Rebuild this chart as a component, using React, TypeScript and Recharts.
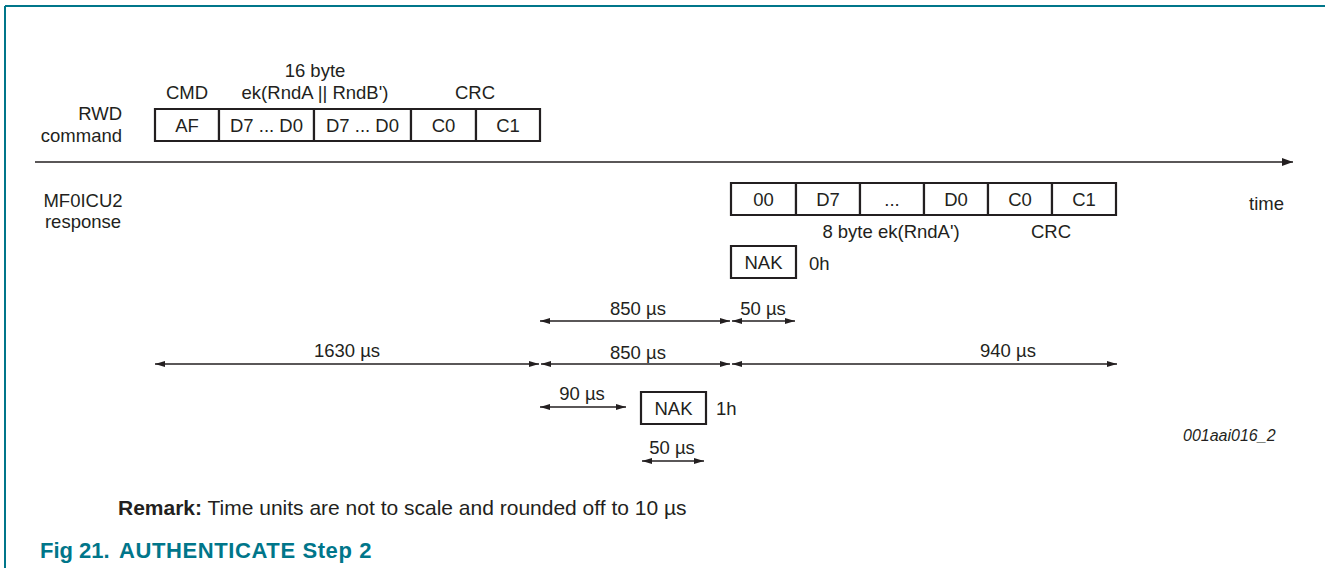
import { ComposedChart, XAxis, YAxis, ReferenceArea, ReferenceLine, Scatter } from 'recharts';

const W = 1325;
const H = 568;
const INK = '#231f20';
const TEAL = '#00768a';
const FONT = '"Liberation Sans", Arial, sans-serif';
const LABEL_SIZE = 18.5;

// RWD command frame: byte fields and their boundaries on the diagram axis
const cmdBytes = ['AF', 'D7 ... D0', 'D7 ... D0', 'C0', 'C1'];
const cmdEdges = [155, 219, 314, 411, 476, 540];
const cmdRow = [109, 141];

// MF0ICU2 response frame
const respBytes = ['00', 'D7', '...', 'D0', 'C0', 'C1'];
const respEdges = [731, 796, 860, 924, 988, 1052, 1116];
const respRow = [183, 215];

// NAK answers
const naks = [
  { text: 'NAK', from: 731, to: 796, top: 246, bottom: 278 },
  { text: 'NAK', from: 641, to: 706, top: 392, bottom: 424 },
];

// timing spans (label, start, end, row)
const timings = [
  { label: '850 µs', from: 540, to: 730, row: 321 },
  { label: '50 µs', from: 732, to: 795, row: 321 },
  { label: '1630 µs', from: 155, to: 539, row: 364 },
  { label: '850 µs', from: 541, to: 730, row: 364 },
  { label: '940 µs', from: 732, to: 1117, row: 364 },
  { label: '90 µs', from: 540, to: 626, row: 407 },
  { label: '50 µs', from: 642, to: 704, row: 461 },
];
const timingLabelX = [638, 763, 347, 638, 1008, 582, 672];
const timingLabelY = [308, 308, 350, 352, 350, 393, 447];

// free text
const labels = [
  { x: 315, y: 70, text: '16 byte', anchor: 'middle' },
  { x: 187, y: 92, text: 'CMD', anchor: 'middle' },
  { x: 315, y: 92, text: "ek(RndA || RndB')", anchor: 'middle' },
  { x: 475, y: 92, text: 'CRC', anchor: 'middle' },
  { x: 122, y: 113, text: 'RWD', anchor: 'end' },
  { x: 122, y: 135, text: 'command', anchor: 'end' },
  { x: 83, y: 200, text: 'MF0ICU2', anchor: 'middle' },
  { x: 83, y: 221, text: 'response', anchor: 'middle' },
  { x: 891, y: 231, text: "8 byte ek(RndA')", anchor: 'middle' },
  { x: 1051, y: 231, text: 'CRC', anchor: 'middle' },
  { x: 1249, y: 203, text: 'time', anchor: 'start' },
  { x: 809, y: 263, text: '0h', anchor: 'start' },
  { x: 716, y: 408, text: '1h', anchor: 'start' },
];

const timeAxis = { from: 35, to: 1293, row: 162 };

const TextMark = (p: any) => {
  const d = p.payload;
  return (
    <text
      x={p.cx}
      y={p.cy}
      textAnchor={d.anchor || 'middle'}
      dominantBaseline="central"
      fontFamily={FONT}
      fontSize={d.size || LABEL_SIZE}
      fontStyle={d.italic ? 'italic' : 'normal'}
      fontWeight={d.bold ? 'bold' : 'normal'}
      letterSpacing={d.spacing || 0}
      fill={d.color || INK}
    >
      {d.lead && <tspan fontWeight="bold">{d.lead}</tspan>}
      {d.text}
    </text>
  );
};

const arrow = (both: boolean, len = 10, half = 3, width = 1.3) => (p: any) => {
  const { x1, y1, x2, y2 } = p;
  const dir = x2 >= x1 ? 1 : -1;
  const head = (tip: number, d: number) =>
    `${tip},${y1} ${tip - d * len},${y1 - half} ${tip - d * len},${y1 + half}`;
  return (
    <g>
      <line x1={x1} y1={y1} x2={x2} y2={y2} stroke={INK} strokeWidth={width} />
      {both && <polygon points={head(x1, -dir)} fill={INK} />}
      <polygon points={head(x2, dir)} fill={INK} />
    </g>
  );
};

const notes = [
  { x: 118, y: 507, lead: 'Remark:', text: ' Time units are not to scale and rounded off to 10 µs', anchor: 'start', size: 21 },
  { x: 1183, y: 435, text: '001aai016_2', anchor: 'start', italic: true, size: 16 },
  { x: 40, y: 550, text: 'Fig 21.', anchor: 'start', bold: true, size: 22, color: TEAL },
  { x: 119, y: 550, text: 'AUTHENTICATE Step 2', anchor: 'start', bold: true, size: 22, spacing: 0.6, color: TEAL },
];

const boxStyle = { stroke: INK, strokeWidth: 2.2, fill: '#fff', fillOpacity: 1 };
const boxLabel = (value: string) => ({ value, position: 'center' as const, fill: INK, fontSize: LABEL_SIZE, fontFamily: FONT });

export default function App() {
  return (
    <div style={{ position: 'absolute', left: 0, top: 0, width: W, height: H, background: '#fff' }}>
      <ComposedChart width={W} height={H} margin={{ top: 0, right: 0, bottom: 0, left: 0 }}>
        <XAxis dataKey="x" type="number" domain={[0, W]} hide allowDataOverflow />
        <YAxis dataKey="y" type="number" domain={[0, H]} reversed hide allowDataOverflow />

        {/* page frame */}
        <ReferenceLine segment={[{ x: 5, y: 6 }, { x: W, y: 6 }]} stroke={TEAL} strokeWidth={2} ifOverflow="visible" />
        <ReferenceLine segment={[{ x: 5, y: 6 }, { x: 5, y: H }]} stroke={TEAL} strokeWidth={2} ifOverflow="visible" />

        {/* time axis */}
        <ReferenceLine
          segment={[{ x: timeAxis.from, y: timeAxis.row }, { x: timeAxis.to, y: timeAxis.row }]}
          shape={arrow(false, 11, 4, 1.4)}
        />

        {cmdBytes.map((b, i) => (
          <ReferenceArea key={`c${i}`} x1={cmdEdges[i]} x2={cmdEdges[i + 1]} y1={cmdRow[0]} y2={cmdRow[1]} {...boxStyle} label={boxLabel(b)} />
        ))}
        {respBytes.map((b, i) => (
          <ReferenceArea key={`r${i}`} x1={respEdges[i]} x2={respEdges[i + 1]} y1={respRow[0]} y2={respRow[1]} {...boxStyle} label={boxLabel(b)} />
        ))}
        {naks.map((n, i) => (
          <ReferenceArea key={`n${i}`} x1={n.from} x2={n.to} y1={n.top} y2={n.bottom} {...boxStyle} label={boxLabel(n.text)} />
        ))}

        {timings.map((t, i) => (
          <ReferenceLine key={`t${i}`} segment={[{ x: t.from, y: t.row }, { x: t.to, y: t.row }]} shape={arrow(true)} />
        ))}

        <Scatter
          data={[
            ...labels,
            ...timings.map((t, i) => ({ x: timingLabelX[i], y: timingLabelY[i], text: t.label, anchor: 'middle' })),
            ...notes,
          ]}
          dataKey="y"
          shape={TextMark}
          isAnimationActive={false}
        />
      </ComposedChart>
    </div>
  );
}
